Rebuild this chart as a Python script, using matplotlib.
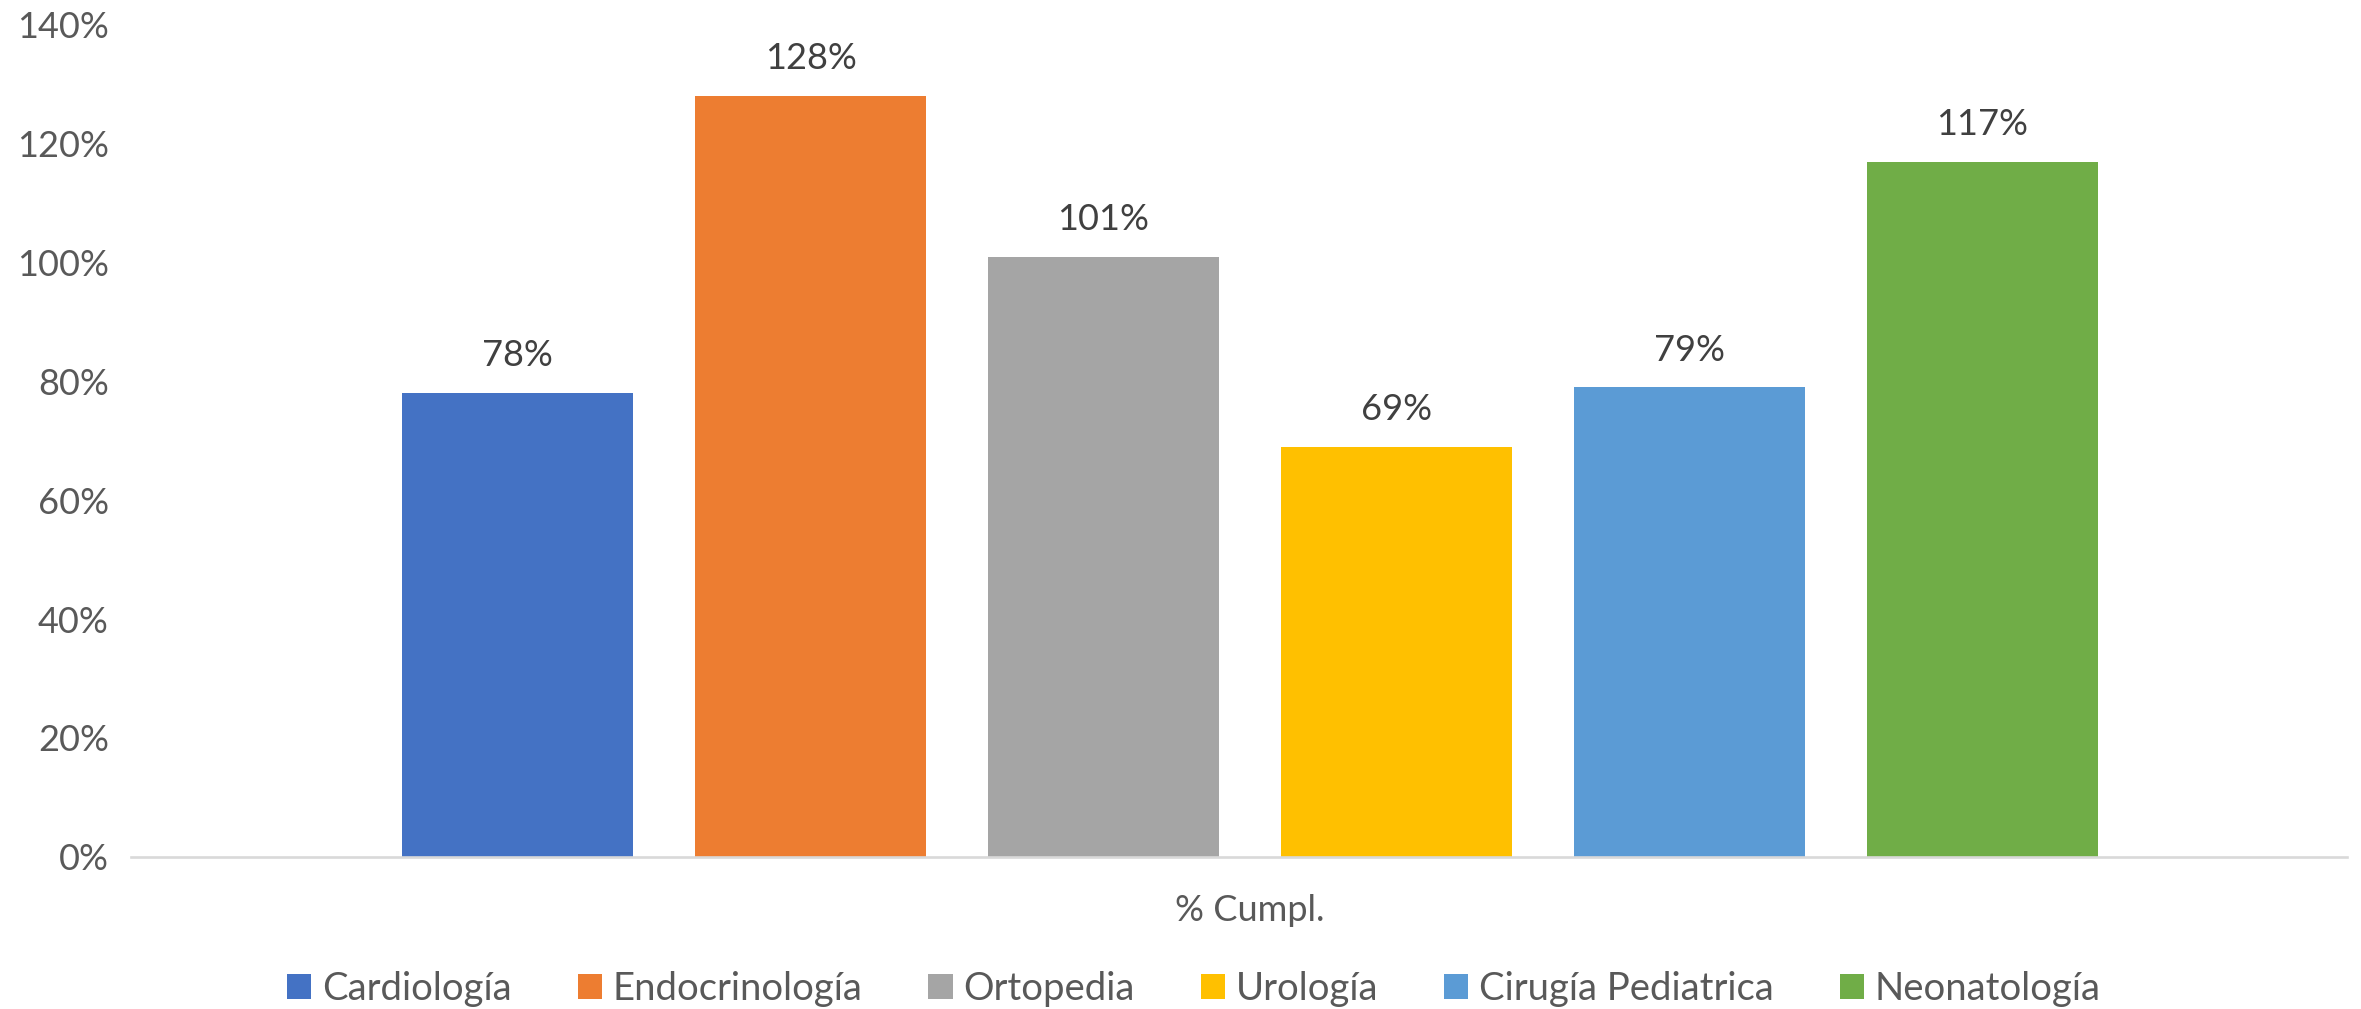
#!/usr/bin/env python3
"""Cumplimiento por especialidad - gráfico de barras agrupadas."""
import matplotlib
matplotlib.use("Agg")
import matplotlib.pyplot as plt
from matplotlib.patches import Patch
from matplotlib.ticker import FuncFormatter

# Datos
especialidades = ["Cardiología", "Endocrinología", "Ortopedia",
                  "Urología", "Cirugía Pediatrica", "Neonatología"]
cumplimiento = [78, 128, 101, 69, 79, 117]
categoria = "% Cumpl."
y_ticks = [0, 20, 40, 60, 80, 100, 120, 140]

colores = ["#4472C4", "#ED7D31", "#A5A5A5", "#FFC000", "#5B9BD5", "#70AD47"]

plt.rcParams["font.family"] = ["Lato", "DejaVu Sans"]

W, H = 2361, 1009
fig = plt.figure(figsize=(W / 100, H / 100), dpi=100)
ax = fig.add_axes([131 / W, (H - 856.7) / H, (2347 - 131) / W, (856.7 - 25) / H])

step = 293.0
bar_w = 231.0 / step
xs = list(range(len(especialidades)))
for x, v, c, name in zip(xs, cumplimiento, colores, especialidades):
    ax.bar(x, v, width=bar_w, color=c, label=name, zorder=2)
    ax.annotate(f"{v}%", (x, v), xytext=(0, 15), textcoords="offset points",
                ha="center", va="bottom", fontsize=26, color="#404040")

# limites en x según posición de las barras
c0 = 517.5
ax.set_xlim((131 - c0) / step, (2347 - c0) / step)
ax.set_ylim(0, 140)
ax.set_yticks(y_ticks)
ax.yaxis.set_major_formatter(FuncFormatter(lambda v, _: f"{v:.0f}%"))
ax.set_xticks([2.5])
ax.set_xticklabels([categoria])

for s in ["top", "right", "left"]:
    ax.spines[s].set_visible(False)
ax.spines["bottom"].set_color("#D9D9D9")
ax.spines["bottom"].set_linewidth(1.9)
ax.tick_params(axis="both", length=0, labelsize=26, colors="#595959")
ax.tick_params(axis="y", pad=16)
ax.tick_params(axis="x", pad=27)

handles = [Patch(facecolor=c, label=n) for c, n in zip(colores, especialidades)]
fig.legend(handles=handles, loc="center", bbox_to_anchor=(1194 / W, 1 - 989 / H),
           ncol=6, frameon=False, fontsize=27.5, labelcolor="#595959",
           handlelength=0.63, handleheight=0.63, handletextpad=0.29,
           columnspacing=1.72, borderpad=0)

fig.savefig("out.png", dpi=100)
